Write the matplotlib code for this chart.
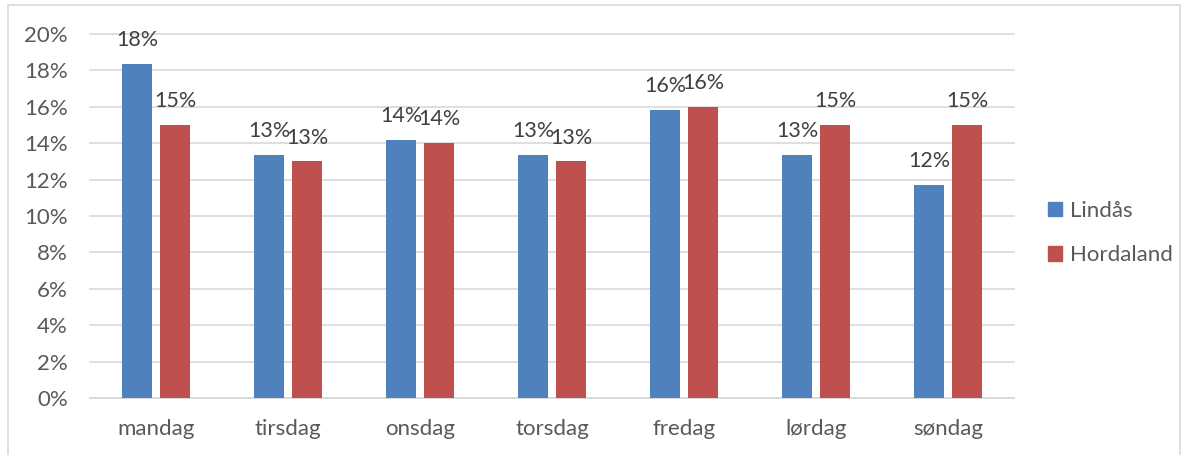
import matplotlib
matplotlib.use("Agg")
import matplotlib.pyplot as plt
import numpy as np
from matplotlib.patches import Rectangle, Patch
from matplotlib.ticker import FuncFormatter

categories = ["mandag", "tirsdag", "onsdag", "torsdag", "fredag", "lørdag", "søndag"]
lindas = [18.35, 13.35, 14.2, 13.35, 15.85, 13.35, 11.7]
hordaland = [15.0, 13.0, 14.0, 13.0, 16.0, 15.0, 15.0]
series_names = ["Lindås", "Hordaland"]
yticks = [0, 2, 4, 6, 8, 10, 12, 14, 16, 18, 20]

blue = "#4f81bd"
red = "#c0504d"
txt = "#595959"
plt.rcParams["font.family"] = ["Lato", "DejaVu Sans"]
FS = 16

fig = plt.figure(figsize=(11.89, 4.55), dpi=100)
W, H = 1189, 455
ax = fig.add_axes([90 / W, 1 - 398 / H, (1014 - 90) / W, (398 - 34) / H])

x = np.arange(len(categories))
w = 0.227
off = 0.144
b1 = ax.bar(x - off, lindas, w, color=blue, zorder=3)
b2 = ax.bar(x + off, hordaland, w, color=red, zorder=3)

for bars, vals in ((b1, lindas), (b2, hordaland)):
    for rect, v in zip(bars, vals):
        ax.annotate(f"{round(v):.0f}%", (rect.get_x() + rect.get_width() / 2, v),
                    xytext=(0, 10), textcoords="offset points", ha="center", va="bottom",
                    fontsize=FS - 0.5, color="#404040")

ax.set_xlim(-0.5, len(categories) - 0.5)
ax.set_ylim(0, 20)
ax.set_yticks(yticks)
ax.yaxis.set_major_formatter(FuncFormatter(lambda v, p: f"{v:.0f}%"))
ax.set_xticks(x)
ax.set_xticklabels(categories)
ax.grid(axis="y", color="#d9d9d9", linewidth=1.2, zorder=0)
for gl in ax.get_ygridlines():
    gl.set_clip_on(False)
for s in ["top", "right", "left"]:
    ax.spines[s].set_visible(False)
ax.spines["bottom"].set_color("#d9d9d9")
ax.spines["bottom"].set_linewidth(1.2)
ax.tick_params(axis="both", length=0, labelsize=FS, colors=txt)
ax.tick_params(axis="y", pad=16)
ax.tick_params(axis="x", pad=15)

handles = [Patch(color=blue), Patch(color=red)]
fig.legend(handles, series_names, loc="center left", bbox_to_anchor=(1028 / W, 1 - 233 / H),
           frameon=False, fontsize=FS, labelcolor=txt, handlelength=0.65, handleheight=0.65,
           handletextpad=0.35, labelspacing=1.1)

fig.patches.append(Rectangle((8 / W, -0.01), (1180 - 8) / W, 1 - 5 / H + 0.01,
                             transform=fig.transFigure, fill=False, edgecolor="#d9d9d9", linewidth=1.2))

fig.savefig("out.png", dpi=100)
